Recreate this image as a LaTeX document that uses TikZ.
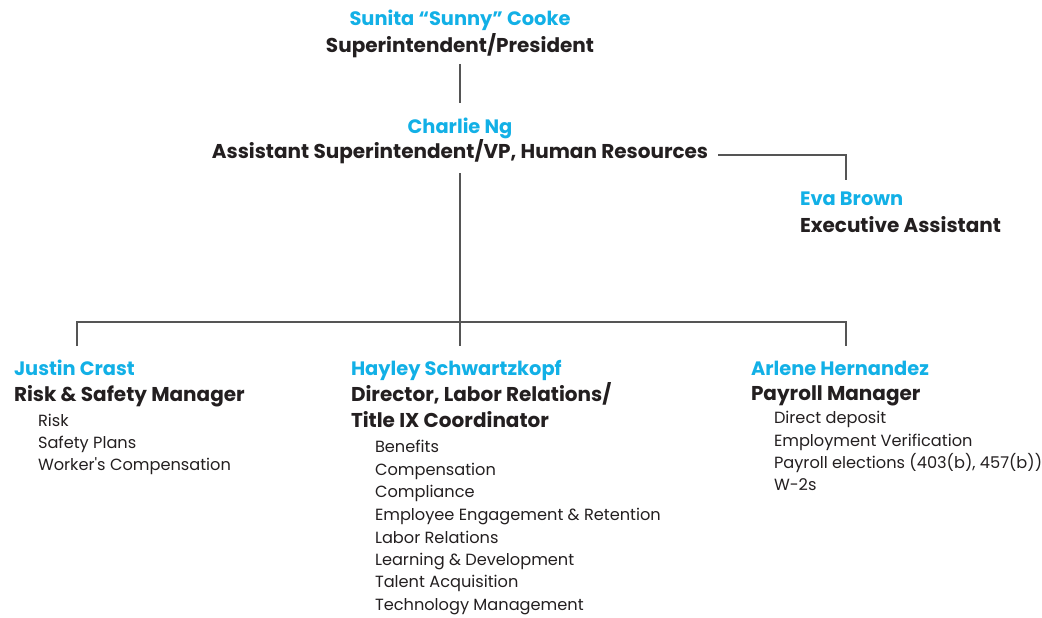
\documentclass[tikz,border=0pt]{standalone}
\usepackage{fontspec}
\setmainfont{Poppins}
\definecolor{namec}{HTML}{12B0E6}
\definecolor{textc}{HTML}{231F20}
\definecolor{linec}{HTML}{555555}
\begin{document}
\begin{tikzpicture}[x=1pt,y=-1pt,
  every node/.style={inner sep=0pt, outer sep=0pt},
  pname/.style={text=namec, font=\fontsize{19.4}{22}\selectfont\bfseries},
  ptitle/.style={text=textc, font=\fontsize{20}{22}\selectfont\bfseries},
  pitem/.style={text=textc, font=\fontsize{16.2}{18}\selectfont, anchor=base west},
  conn/.style={draw=linec, line width=1.6pt}]
\useasboundingbox (0,0) rectangle (1042,618);
% top
\node[pname, anchor=base] (sunn) at (460,26) {Sunita “Sunny” Cooke};
\node[ptitle, anchor=base] (sunt) at (460,53) {Superintendent/President};
\node[pname, anchor=base] (chrn) at (460,133) {Charlie Ng};
\node[ptitle, anchor=base] (chrt) at (460,158) {Assistant Superintendent/VP, Human Resources};
% Eva
\node[pname, anchor=base west] (evan) at (800,205) {Eva Brown};
\node[ptitle, anchor=base west] (evat) at (800,232) {Executive Assistant};
% Justin
\node[pname, anchor=base west] (jusn) at (14,375) {Justin Crast};
\node[ptitle, anchor=base west] (just) at (14,401) {Risk \& Safety Manager};
\node[pitem] (j1) at (38,426) {Risk};
\node[pitem] (j2) at (38,448) {Safety Plans};
\node[pitem] (j3) at (38,470) {Worker\textquotesingle s Compensation};
% Hayley
\node[pname, anchor=base west] (hayn) at (351,375) {Hayley Schwartzkopf};
\node[ptitle, anchor=base west] (hayt) at (351,401) {Director, Labor Relations/};
\node[ptitle, anchor=base west] (hayt2) at (351,427) {Title IX Coordinator};
\node[pitem] (h1) at (375,452) {Benefits};
\node[pitem] (h2) at (375,475) {Compensation};
\node[pitem] (h3) at (375,497) {Compliance};
\node[pitem] (h4) at (375,520) {Employee Engagement \& Retention};
\node[pitem] (h5) at (375,543) {Labor Relations};
\node[pitem] (h6) at (375,565) {Learning \& Development};
\node[pitem] (h7) at (375,587) {Talent Acquisition};
\node[pitem] (h8) at (375,610) {Technology Management};
% Arlene
\node[pname, anchor=base west] (arln) at (751,375) {Arlene Hernandez};
\node[ptitle, anchor=base west] (arlt) at (751,400) {Payroll Manager};
\node[pitem] (a1) at (774,423) {Direct deposit};
\node[pitem] (a2) at (774,446) {Employment Verification};
\node[pitem] (a3) at (774,468) {Payroll elections (403(b), 457(b))};
\node[pitem] (a4) at (774,490) {W-2s};
% connector points
\coordinate (topA) at (460,64);
\coordinate (topB) at (460,103);
\coordinate (evaA) at (718,155);
\coordinate (evaC) at (846,155);
\coordinate (evaB) at (846,180);
\coordinate (midA) at (460,173);
\coordinate (midB) at (460,346);
\coordinate (barL) at (77,322);
\coordinate (barR) at (846,322);
\coordinate (dropL) at (77,346);
\coordinate (dropR) at (846,346);
\draw[conn] (topA) -- (topB);
\draw[conn] (evaA) -- (evaC) -- (evaB);
\draw[conn] (midA) -- (midB);
\draw[conn] (dropL) -- (barL) -- (barR) -- (dropR);
\end{tikzpicture}
\end{document}
